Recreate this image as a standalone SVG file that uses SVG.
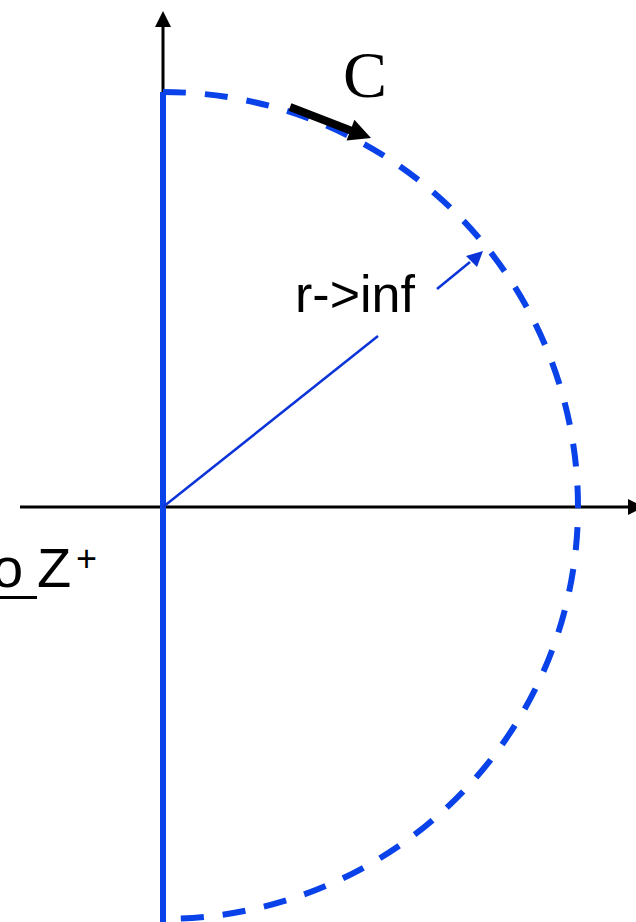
<svg xmlns="http://www.w3.org/2000/svg" width="636" height="922" viewBox="0 0 636 922">
  <style>
    .axis { stroke: #000; stroke-width: 3; fill: none; }
    .contour { stroke: #0a42ea; stroke-width: 6; fill: none; }
    .dashed { stroke-dasharray: 23 19; }
    .radius { stroke: #0a33d8; stroke-width: 2.5; fill: none; }
    .sans { font-family: "Liberation Sans", Arial, sans-serif; fill: #000; }
    .serif { font-family: "Liberation Serif", "Times New Roman", serif; fill: #000; }
  </style>
  <rect width="636" height="922" fill="#fff"/>
  <g id="axes">
    <line class="axis" x1="20" y1="507" x2="630" y2="507"/>
    <polygon points="644,507 628,499 628,515" fill="#000"/>
    <line class="axis" x1="163" y1="507" x2="163" y2="24"/>
    <polygon points="163,11 155,27 171,27" fill="#000"/>
  </g>
  <g id="contour">
    <line class="contour" x1="163" y1="92" x2="163" y2="922"/>
    <path class="contour dashed" d="M163,92 A415,415 0 0 1 578,507 A415,412 0 0 1 163,919"/>
  </g>
  <g id="connectors">
    <line class="radius" x1="163" y1="507" x2="378" y2="336"/>
    <line class="radius" x1="437" y1="289" x2="470" y2="262"/>
    <polygon points="483,251 466,256 477,267" fill="#0a33d8"/>
    <line x1="290" y1="107" x2="352" y2="131" stroke="#000" stroke-width="8"/>
    <polygon points="371,138 346.6,140.4 354.4,119.8" fill="#000"/>
  </g>
  <g id="label-C">
    <text class="serif" x="343" y="97" font-size="66">C</text>
  </g>
  <g id="label-r">
    <text class="sans" x="295" y="312" font-size="52">r-&gt;inf</text>
  </g>
  <g id="label-Z">
    <text class="sans" x="-8" y="587" font-size="56">o</text>
    <rect x="0" y="596" width="37" height="3" fill="#000"/>
    <text class="sans" x="37" y="587" font-size="56">Z</text>
    <text class="sans" x="76" y="571" font-size="36">+</text>
  </g>
</svg>
